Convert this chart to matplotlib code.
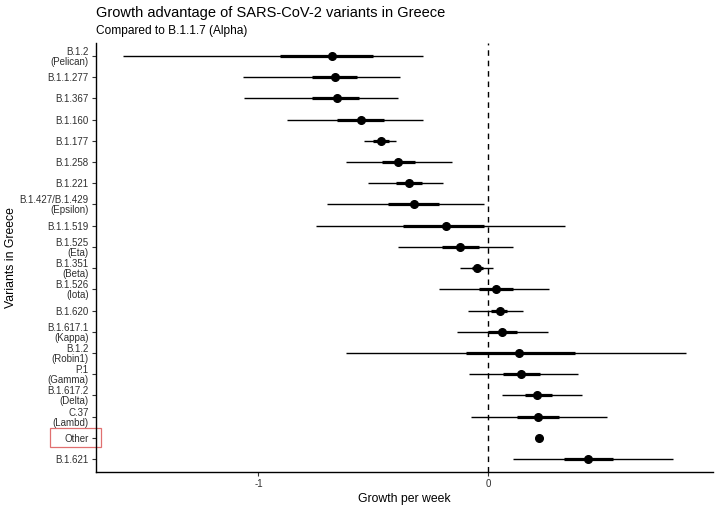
import matplotlib
matplotlib.use("Agg")
import matplotlib.pyplot as plt
from matplotlib.patches import Rectangle

plt.rcParams['font.family'] = ['Liberation Sans', 'DejaVu Sans']

# variants, top to bottom as shown
variants = ["B.1.2\n(Pelican)", "B.1.1.277", "B.1.367", "B.1.160", "B.1.177",
            "B.1.258", "B.1.221", "B.1.427/B.1.429\n(Epsilon)", "B.1.1.519",
            "B.1.525\n(Eta)", "B.1.351\n(Beta)", "B.1.526\n(Iota)", "B.1.620",
            "B.1.617.1\n(Kappa)", "B.1.2\n(Robin1)", "P.1\n(Gamma)",
            "B.1.617.2\n(Delta)", "C.37\n(Lambd)", "Other", "B.1.621"]

# growth per week estimate, inner interval and outer interval
estimate = [-0.681, -0.667, -0.657, -0.554, -0.467, -0.392, -0.344, -0.322, -0.185,
            -0.122, -0.049, 0.034, 0.051, 0.060, 0.132, 0.141, 0.213, 0.216, 0.222, 0.435]
inner_lo = [-0.906, -0.768, -0.768, -0.657, -0.50, -0.464, -0.402, -0.435, -0.370,
            -0.203, -0.072, -0.040, 0.010, 0.000, -0.098, 0.063, 0.160, 0.126, 0.210, 0.329]
inner_hi = [-0.500, -0.573, -0.561, -0.454, -0.43, -0.319, -0.290, -0.213, -0.017,
            -0.040, -0.022, 0.109, 0.083, 0.124, 0.377, 0.225, 0.276, 0.309, 0.235, 0.541]
outer_lo = [-1.588, -1.066, -1.062, -0.877, -0.541, -0.621, -0.522, -0.701, -0.750,
            -0.394, -0.123, -0.215, -0.087, -0.138, -0.621, -0.085, 0.058, -0.075, 0.203, 0.109]
outer_hi = [-0.285, -0.384, -0.394, -0.285, -0.402, -0.159, -0.198, -0.019, 0.334,
            0.109, 0.022, 0.265, 0.152, 0.258, 0.859, 0.389, 0.406, 0.518, 0.239, 0.802]

fig = plt.figure(figsize=(7.2, 5.07), dpi=100)
ax = fig.add_axes([0.1329, 0.0696, 0.8578, 0.8450])

n = len(variants)
ypos = list(range(n))

ax.axvline(0, color='black', lw=1.0, linestyle=(0, (4, 3.5)), zorder=1)
ax.hlines(ypos, outer_lo, outer_hi, color='black', lw=1.0, zorder=2)
ax.hlines(ypos, inner_lo, inner_hi, color='black', lw=2.3, zorder=3)
ax.plot(estimate, ypos, 'o', color='black', markersize=5.5, zorder=4)

ax.set_xlim(-1.708, 0.979)
ax.set_ylim(n - 0.4, -0.6)
ax.set_xticks([-1, 0])
ax.set_xticklabels(['-1', '0'])
ax.set_yticks(ypos)
ax.set_yticklabels(variants, linespacing=1.0)

ax.tick_params(axis='both', labelsize=7, length=3, width=0.8, color='#333333',
               labelcolor='#303030', pad=2)
for s in ['top', 'right']:
    ax.spines[s].set_visible(False)
for s in ['left', 'bottom']:
    ax.spines[s].set_linewidth(1.0)

ax.set_xlabel('Growth per week', fontsize=8.8, labelpad=3)
ax.set_ylabel('Variants in Greece', fontsize=8.8)
ax.yaxis.set_label_coords(-0.128, 0.5)

fig.text(0.1329, 0.975, 'Growth advantage of SARS-CoV-2 variants in Greece',
         fontsize=10.5, va='center', ha='left')
fig.text(0.1329, 0.938, 'Compared to B.1.1.7 (Alpha)', fontsize=8.6,
         va='center', ha='left')

# red highlight box around the "Other" label
other = variants.index("Other")
box = Rectangle((-0.074, other - 0.455), 0.082, 0.91,
                transform=ax.get_yaxis_transform(), fill=False,
                edgecolor='#e07070', lw=0.9, clip_on=False)
ax.add_patch(box)

fig.savefig('out.png', dpi=100)
